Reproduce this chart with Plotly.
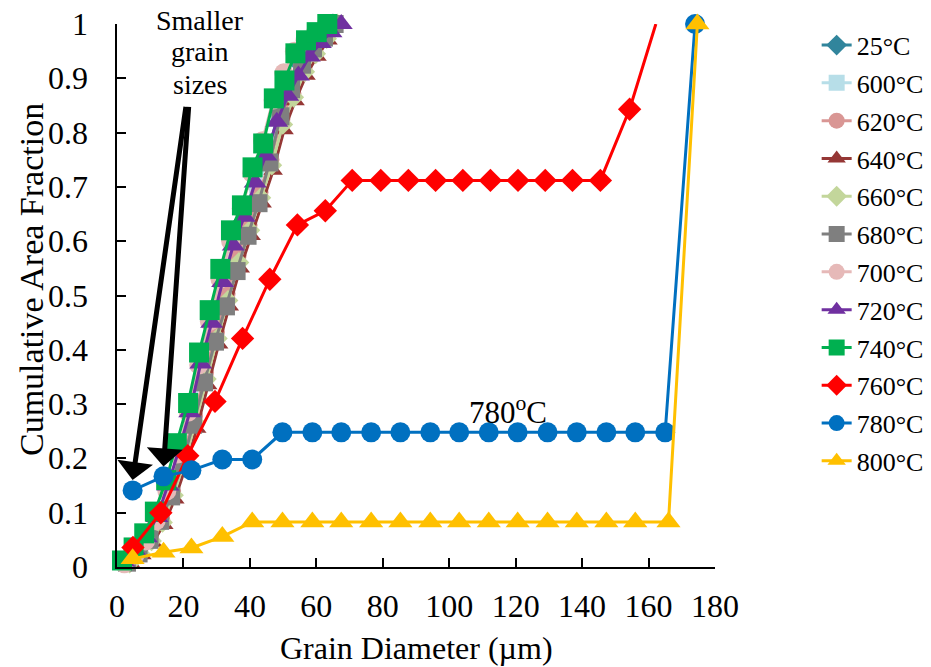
import plotly.graph_objects as go

FONT = "Liberation Serif, Times New Roman, serif"

labels = ["25°C", "600°C", "620°C", "640°C", "660°C", "680°C", "700°C",
          "720°C", "740°C", "760°C", "780°C", "800°C"]
colors = ["#31859C", "#B7DEE8", "#D99694", "#953735", "#C3D69B", "#7F7F7F",
          "#E6B9B8", "#7030A0", "#00B050", "#FF0000", "#0070C0", "#FFC000"]
symbols = ["diamond", "square", "circle", "triangle-up", "diamond", "square",
           "circle", "triangle-up", "square", "diamond", "circle", "triangle-up"]

x_25 = [2.5, 5.8, 9.1, 12.4, 15.7, 19.0, 22.3, 25.6, 28.9, 32.1, 35.4, 38.7, 42.0, 45.3, 48.6, 51.9, 55.2, 58.5, 61.8, 65.0]
y_25 = [0.010, 0.030, 0.058, 0.095, 0.150, 0.215, 0.290, 0.370, 0.445, 0.515, 0.585, 0.640, 0.700, 0.760, 0.835, 0.880, 0.925, 0.955, 0.980, 1.0]
x_600 = [2.8, 6.1, 9.4, 12.7, 16.0, 19.3, 22.6, 25.9, 29.2, 32.4, 35.7, 39.0, 42.3, 45.6, 48.9, 52.2, 55.5, 58.8, 62.1, 65.3]
y_600 = [0.010, 0.031, 0.057, 0.094, 0.148, 0.213, 0.288, 0.368, 0.442, 0.512, 0.582, 0.638, 0.698, 0.758, 0.832, 0.878, 0.923, 0.953, 0.978, 1.0]
x_620 = [3.4, 6.7, 10.0, 13.3, 16.6, 19.9, 23.2, 26.5, 29.8, 33.0, 36.3, 39.6, 42.9, 46.2, 49.5, 52.8, 56.1, 59.4, 62.7, 65.9]
y_620 = [0.008, 0.027, 0.052, 0.088, 0.140, 0.204, 0.278, 0.358, 0.433, 0.503, 0.573, 0.630, 0.690, 0.750, 0.825, 0.872, 0.918, 0.950, 0.976, 1.0]
x_640 = [4.2, 7.5, 10.8, 14.1, 17.4, 20.7, 24.0, 27.3, 30.6, 33.8, 37.1, 40.4, 43.7, 47.0, 50.3, 53.6, 56.9, 60.2, 63.5, 66.7]
y_640 = [0.006, 0.022, 0.045, 0.078, 0.125, 0.185, 0.255, 0.335, 0.410, 0.480, 0.550, 0.610, 0.670, 0.730, 0.805, 0.858, 0.905, 0.940, 0.970, 1.0]
x_660 = [3.8, 7.1, 10.4, 13.7, 17.0, 20.3, 23.6, 26.9, 30.2, 33.4, 36.7, 40.0, 43.3, 46.6, 49.9, 53.2, 56.5, 59.8, 63.1, 66.3]
y_660 = [0.007, 0.024, 0.048, 0.082, 0.132, 0.194, 0.266, 0.346, 0.421, 0.491, 0.561, 0.620, 0.680, 0.740, 0.815, 0.865, 0.912, 0.945, 0.973, 1.0]
x_680 = [3.0, 6.5, 9.8, 13.0, 16.3, 19.6, 22.9, 26.2, 29.5, 32.8, 36.0, 39.3, 42.6, 45.9, 49.2, 52.4, 55.7, 59.0, 62.3, 65.5]
y_680 = [0.008, 0.025, 0.050, 0.085, 0.130, 0.190, 0.262, 0.340, 0.415, 0.480, 0.545, 0.610, 0.670, 0.745, 0.830, 0.880, 0.925, 0.955, 0.975, 1.0]
x_700 = [2.2, 5.4, 8.6, 11.8, 15.0, 18.2, 21.4, 24.6, 27.8, 31.0, 34.2, 37.4, 40.6, 43.8, 47.0, 50.2, 53.4, 56.6, 59.8, 63.0]
y_700 = [0.006, 0.022, 0.048, 0.085, 0.140, 0.208, 0.285, 0.372, 0.452, 0.530, 0.600, 0.660, 0.725, 0.785, 0.860, 0.910, 0.950, 0.970, 0.985, 1.0]
x_720 = [2.0, 5.5, 8.8, 12.0, 15.3, 18.6, 21.9, 25.2, 28.5, 31.8, 35.0, 38.3, 41.6, 44.8, 48.1, 51.4, 54.6, 57.9, 61.2, 64.4, 67.5]
y_720 = [0.010, 0.030, 0.055, 0.092, 0.150, 0.215, 0.285, 0.375, 0.450, 0.525, 0.592, 0.645, 0.708, 0.758, 0.820, 0.868, 0.905, 0.940, 0.965, 0.985, 1.0]
x_740 = [1.5, 5.0, 8.2, 11.4, 14.8, 18.0, 21.4, 24.7, 27.9, 31.1, 34.3, 37.6, 40.8, 44.0, 47.2, 50.4, 53.7, 56.9, 60.1, 63.3]
y_740 = [0.012, 0.036, 0.062, 0.102, 0.160, 0.228, 0.302, 0.395, 0.473, 0.549, 0.620, 0.666, 0.736, 0.780, 0.863, 0.896, 0.946, 0.970, 0.985, 1.0]
x_760 = [4.8, 13.2, 21.3, 29.5, 37.8, 46.0, 54.3, 62.7, 70.8, 79.4, 87.7, 95.9, 104.1, 112.4, 120.7, 128.9, 137.1, 145.5, 154.3, 162.2]
y_760 = [0.036, 0.100, 0.205, 0.305, 0.421, 0.530, 0.630, 0.656, 0.712, 0.712, 0.712, 0.712, 0.712, 0.712, 0.712, 0.712, 0.712, 0.712, 0.843, 1.0]
x_780 = [4.7, 14.0, 22.4, 31.7, 40.7, 49.8, 58.8, 67.5, 76.5, 85.3, 94.3, 103.0, 111.9, 120.6, 129.6, 138.4, 147.3, 156.0, 165.0, 174.0]
y_780 = [0.141, 0.167, 0.178, 0.198, 0.198, 0.248, 0.248, 0.248, 0.248, 0.248, 0.248, 0.248, 0.248, 0.248, 0.248, 0.248, 0.248, 0.248, 0.248, 1.0]
x_800 = [4.7, 14.0, 22.4, 31.7, 40.7, 49.8, 58.8, 67.5, 76.5, 85.3, 94.3, 103.0, 111.9, 120.6, 129.6, 138.4, 147.3, 156.0, 166.0, 174.7]
y_800 = [0.015, 0.027, 0.035, 0.056, 0.083, 0.083, 0.083, 0.083, 0.083, 0.083, 0.083, 0.083, 0.083, 0.083, 0.083, 0.083, 0.083, 0.083, 0.083, 1.0]

xs = [x_25, x_600, x_620, x_640, x_660, x_680, x_700, x_720, x_740, x_760, x_780, x_800]
ys = [y_25, y_600, y_620, y_640, y_660, y_680, y_700, y_720, y_740, y_760, y_780, y_800]
msize = [16, 17, 18, 17, 16, 18, 19, 20, 20, 18, 20, 21]

x_ticks = [0, 20, 40, 60, 80, 100, 120, 140, 160, 180]
y_ticks = [0, 0.1, 0.2, 0.3, 0.4, 0.5, 0.6, 0.7, 0.8, 0.9, 1]
y_tick_text = ["0", "0.1", "0.2", "0.3", "0.4", "0.5", "0.6", "0.7", "0.8", "0.9", "1"]

fig = go.Figure()
for i, lab in enumerate(labels):
    sizes = [msize[i]] * len(xs[i])
    if lab == "760°C":
        sizes[-1] = 0
    fig.add_trace(go.Scatter(
        x=xs[i], y=ys[i], name=lab, mode="lines+markers",
        legendgroup=lab, cliponaxis=False,
        line=dict(color=colors[i], width=3),
        marker=dict(symbol=symbols[i], color=colors[i], size=sizes, opacity=1,
                    line=dict(width=0)),
    ))


def py(px):
    return (567.0 - px) / 543.0


def px_(x):
    return (x - 117.0) / 598.0


def txt(x, y, text, size, angle=0, xanchor="center"):
    return dict(x=x, y=y, text=text, showarrow=False, textangle=angle,
                xanchor=xanchor, yanchor="middle",
                font=dict(family=FONT, size=size, color="black"),
                xref="paper", yref="paper")


annotations = [
    txt(px_(508), py(410), "780<sup>o</sup>C", 31),
    txt(px_(200), py(20), "Smaller", 28),
    txt(px_(200), py(52), "grain", 28),
    txt(px_(200), py(84), "sizes", 28),
    txt(px_(416), py(648), "Grain Diameter (µm)", 32),
    txt(px_(31), py(280), "Cumulative Area Fraction", 34, -90),
    dict(x=4.7, y=0.16, ax=20.8, ay=0.85, axref="x", ayref="y", xref="x", yref="y",
         text="", showarrow=True, arrowhead=1, arrowsize=1.2, arrowwidth=5,
         arrowcolor="black"),
    dict(x=14.0, y=0.185, ax=21.6, ay=0.85, axref="x", ayref="y", xref="x", yref="y",
         text="", showarrow=True, arrowhead=1, arrowsize=1.2, arrowwidth=5,
         arrowcolor="black"),
]
# y tick labels placed as right-aligned texts at the tick values
for v, t in zip(y_ticks, y_tick_text):
    annotations.append(txt(px_(90), v, t, 32, xanchor="right"))

tickfont = dict(family=FONT, size=32, color="black")

fig.update_layout(
    width=931, height=667,
    margin=dict(l=117, r=216, t=24, b=100, autoexpand=False),
    paper_bgcolor="white", plot_bgcolor="white",
    font=dict(family=FONT, size=32, color="black"),
    showlegend=True,
    legend=dict(x=1.170, y=0.578, xanchor="left", yanchor="middle",
                font=dict(family=FONT, size=26, color="black"),
                traceorder="grouped", tracegroupgap=1,
                bgcolor="rgba(0,0,0,0)"),
    annotations=annotations,
    xaxis=dict(range=[0, 180], tickvals=x_ticks, ticktext=[str(v) for v in x_ticks],
               tickfont=tickfont, automargin=False,
               showgrid=False, zeroline=False, showline=True, linecolor="black",
               linewidth=2, ticks="inside", ticklen=9, tickwidth=2, tickcolor="black",
               ticklabelstandoff=10),
    yaxis=dict(range=[0, 1], tickvals=y_ticks, showticklabels=False,
               automargin=False,
               showgrid=False, zeroline=False, showline=True, linecolor="black",
               linewidth=2, ticks="inside", ticklen=9, tickwidth=2, tickcolor="black"),
)

fig.write_html("out.html")
